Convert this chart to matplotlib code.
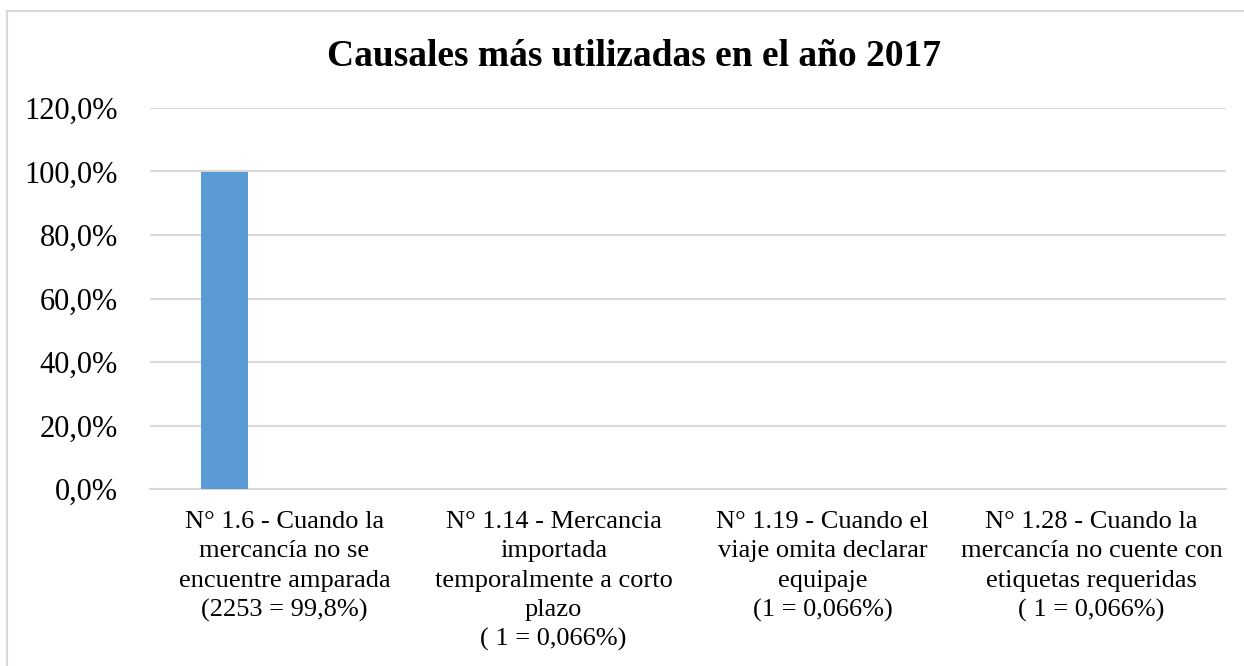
import matplotlib
matplotlib.use("Agg")
import matplotlib.pyplot as plt
from matplotlib.patches import Rectangle
from matplotlib.ticker import FuncFormatter, MultipleLocator
import numpy as np

title = "Causales más utilizadas en el año 2017"
categories = [
    "N° 1.6 - Cuando la\nmercancía no se\nencuentre amparada\n(2253 = 99,8%)",
    "N° 1.14 - Mercancia\nimportada\ntemporalmente a corto\nplazo\n( 1 = 0,066%)",
    "N° 1.19 - Cuando el\nviaje omita declarar\nequipaje\n(1 = 0,066%)",
    "N° 1.28 - Cuando la\nmercancía no cuente con\netiquetas requeridas\n( 1 = 0,066%)",
]
values = [0.998, 0.00066, 0.00066, 0.00066]

plt.rcParams['font.family'] = ['Liberation Serif', 'DejaVu Serif']

W, H = 1244, 666
fig = plt.figure(figsize=(W / 100, H / 100), dpi=100)
fig.patch.set_facecolor('white')

# outer chart border (extends past right and bottom edges)
fig.add_artist(Rectangle((6.5 / W, -0.05), 1.2, 1 - 11 / H + 0.05,
                         transform=fig.transFigure, fill=False,
                         edgecolor='#D9D9D9', linewidth=1.5))

ax = fig.add_axes([150 / W, 1 - 489 / H, (1226 - 150) / W, (489 - 108) / H])
x = np.arange(len(categories))
ax.bar(x - 0.223, values, width=0.175, color='#5B9BD5', zorder=3)

ax.set_xlim(-0.5, len(categories) - 0.5)
ax.set_ylim(0, 1.2)
ax.yaxis.set_major_locator(MultipleLocator(0.2))
ax.yaxis.set_major_formatter(FuncFormatter(lambda v, p: f"{v*100:.1f}%".replace('.', ',')))
ax.grid(axis='y', color='#D9D9D9', linewidth=1.5, zorder=0)
ax.set_axisbelow(True)
for s in ['top', 'right', 'left']:
    ax.spines[s].set_visible(False)
ax.spines['bottom'].set_color('#D9D9D9')
ax.spines['bottom'].set_linewidth(1.5)

ax.set_xticks(x)
ax.set_xticklabels(categories, fontsize=19, linespacing=1.42)
ax.tick_params(axis='x', length=0, pad=16)
ax.tick_params(axis='y', length=0, pad=23, labelsize=22)

fig.text(0.51, 1 - 57 / H, title, ha='center', va='center',
         fontsize=27, fontweight='bold')

fig.savefig('out.png', dpi=100)
